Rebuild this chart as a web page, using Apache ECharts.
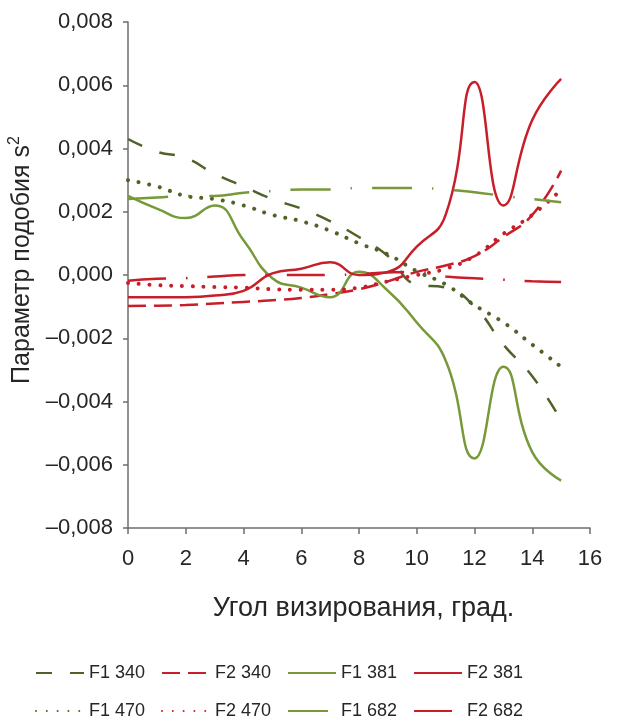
<!DOCTYPE html>
<html>
<head>
<meta charset="utf-8">
<script src="https://cdn.jsdelivr.net/npm/echarts@6/dist/echarts.min.js"></script>
<style>
  html, body { margin: 0; padding: 0; background: #ffffff; }
  #chart { width: 620px; height: 720px; }
</style>
</head>
<body>
<div id="chart"></div>
<script>
// Viewing angle, degrees
const angles = [0, 1, 2, 3, 4, 5, 6, 7, 8, 9, 10, 11, 12, 13, 14, 15];

// Similarity parameter s² for each filter/band
const f1_340 = [0.0043, 0.0039, 0.0037, 0.0032, 0.0028, 0.0024, 0.0021, 0.0017, 0.0012, 0.0006, -0.0003, -0.0004, -0.0010, -0.0022, -0.0032, -0.0046];
const f2_340 = [-0.00098, -0.00097, -0.00095, -0.0009, -0.00085, -0.0008, -0.00073, -0.0006, -0.00045, -0.0002, 0.0001, 0.0003, 0.0006, 0.0012, 0.0019, 0.0033];
const f1_381 = [0.0025, 0.0021, 0.0018, 0.0022, 0.0011, -0.0001, -0.0004, -0.0007, 0.0001, -0.0005, -0.0015, -0.0027, -0.0058, -0.0029, -0.0056, -0.0065];
const f2_381 = [-0.0007, -0.0007, -0.0007, -0.00065, -0.0005, 0.00005, 0.0002, 0.0004, 0.0000, 0.0001, 0.0009, 0.0019, 0.0061, 0.0022, 0.0049, 0.0062];
const f1_470 = [0.0030, 0.0028, 0.0025, 0.0024, 0.0022, 0.0019, 0.0017, 0.0014, 0.0010, 0.00065, 0.00012, -0.0003, -0.00095, -0.0015, -0.0022, -0.0029];
const f2_470 = [-0.00025, -0.00032, -0.00035, -0.00038, -0.0004, -0.00045, -0.00047, -0.00047, -0.0004, -0.0002, 0.0000, 0.0002, 0.0006, 0.0013, 0.0019, 0.0027];
const f1_682 = [0.0024, 0.00245, 0.0025, 0.0025, 0.0026, 0.00265, 0.0027, 0.0027, 0.00275, 0.00275, 0.00275, 0.0027, 0.00262, 0.0025, 0.0024, 0.0023];
const f2_682 = [-0.00018, -0.00012, -0.0001, -0.00005, 0.0, 0.0, 0.0, 0.0, 0.00003, 0.00008, 0.0001, -0.00005, -0.0001, -0.00015, -0.0002, -0.00022];

const seriesNames = ['F1 340', 'F2 340', 'F1 381', 'F2 381', 'F1 470', 'F2 470', 'F1 682', 'F2 682'];
const seriesValues = [f1_340, f2_340, f1_381, f2_381, f1_470, f2_470, f1_682, f2_682];

const DARK_GREEN = '#4f6228';
const LIGHT_GREEN = '#77993a';
const RED = '#c81e2a';

const styles = [
  { color: DARK_GREEN, width: 2.5, type: [16, 18], cap: 'butt' },
  { color: RED, width: 2.5, type: [18, 8], cap: 'butt' },
  { color: LIGHT_GREEN, width: 2.5, type: 'solid', cap: 'butt' },
  { color: RED, width: 2.5, type: 'solid', cap: 'butt' },
  { color: DARK_GREEN, width: 4, type: [0.01, 10.8], cap: 'round' },
  { color: RED, width: 4, type: [0.01, 10.8], cap: 'round' },
  { color: LIGHT_GREEN, width: 2.5, type: [40, 20, 1.5, 20], cap: 'butt' },
  { color: RED, width: 2.5, type: [38, 20, 1.5, 20], cap: 'butt' }
];

const FONT = 'Liberation Sans, Arial, sans-serif';
const TEXT_COLOR = '#262626';
const AXIS_COLOR = '#6e6e6e';

function fmt(v) {
  const r = Math.round(v * 1000) / 1000;
  const s = Math.abs(r).toFixed(3).replace('.', ',');
  return r < 0 ? '\u2013' + s : s;
}

const series = seriesNames.map((name, i) => ({
  name: name,
  type: 'line',
  data: angles.map((a, j) => [a, seriesValues[i][j]]),
  smooth: 0.5,
  symbol: 'none',
  showSymbol: false,
  lineStyle: {
    color: styles[i].color,
    width: styles[i].width,
    type: styles[i].type,
    cap: styles[i].cap
  },
  itemStyle: { color: styles[i].color },
  z: 2
}));

// Two rows of four legend entries, one component per entry
const colX = [35, 161, 287, 413];
const rowY = [664, 702];
const legends = seriesNames.map((name, i) => ({
  data: [name],
  left: colX[i % 4],
  top: rowY[Math.floor(i / 4)],
  padding: 0,
  itemWidth: 48,
  itemHeight: 14,
  itemGap: 0,
  itemStyle: { opacity: 0 },
  textStyle: { fontFamily: FONT, fontSize: 18, color: TEXT_COLOR },
  selectedMode: false
}));

const chart = echarts.init(document.getElementById('chart'), null, { renderer: 'canvas' });
chart.setOption({
  animation: false,
  backgroundColor: '#ffffff',
  grid: { left: 128, right: 30, top: 22, bottom: 192, containLabel: false },
  legend: legends,
  xAxis: {
    type: 'value',
    min: 0,
    max: 16,
    interval: 2,
    name: 'Угол визирования, град.',
    nameLocation: 'middle',
    nameGap: 67,
    nameTextStyle: { fontFamily: FONT, fontSize: 27, color: TEXT_COLOR, padding: [0, 0, 0, 9] },
    axisLine: { onZero: false, lineStyle: { color: AXIS_COLOR, width: 1.5 } },
    axisTick: { show: true, length: 6, inside: false, lineStyle: { color: AXIS_COLOR, width: 1.5 } },
    axisLabel: { fontFamily: FONT, fontSize: 22, color: TEXT_COLOR, margin: 20 },
    splitLine: { show: false }
  },
  yAxis: {
    type: 'value',
    min: -0.008,
    max: 0.008,
    interval: 0.002,
    axisLine: { show: true, onZero: false, lineStyle: { color: AXIS_COLOR, width: 1.5 } },
    axisTick: { show: true, length: 5, inside: false, lineStyle: { color: AXIS_COLOR, width: 1.5 } },
    axisLabel: { fontFamily: FONT, fontSize: 22, color: TEXT_COLOR, margin: 15, formatter: fmt },
    splitLine: { show: false }
  },
  graphic: [{
    type: 'text',
    x: 22,
    y: 260,
    rotation: Math.PI / 2,
    style: {
      text: 'Параметр подобия s{sup|2}',
      fontFamily: FONT,
      fontSize: 25,
      fill: TEXT_COLOR,
      align: 'center',
      verticalAlign: 'middle',
      rich: {
        sup: { fontFamily: FONT, fontSize: 16, fill: TEXT_COLOR, verticalAlign: 'top', padding: [0, 0, 14, 0] }
      }
    }
  }],
  series: series
});
</script>
</body>
</html>
